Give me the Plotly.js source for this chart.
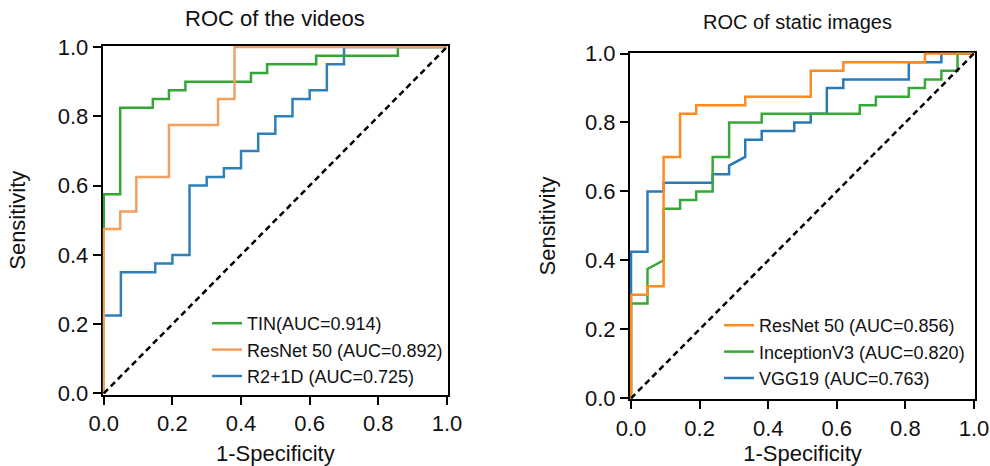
<!DOCTYPE html>
<html>
<head>
<meta charset="utf-8">
<script src="https://cdn.plot.ly/plotly-3.0.1.min.js"></script>
<style>html,body{margin:0;padding:0;background:#fff;}#chart{width:990px;height:466px;}</style>
</head>
<body>
<div id="chart"></div>
<script>
// ---------- Data: ROC of the videos ----------
const tinFpr = [0, 0, 0.048, 0.048, 0.143, 0.143, 0.190, 0.190, 0.238, 0.238, 0.429, 0.429, 0.476, 0.476, 0.619, 0.619, 0.857, 0.857, 1];
const tinTpr = [0, 0.575, 0.575, 0.825, 0.825, 0.85, 0.85, 0.875, 0.875, 0.9, 0.9, 0.925, 0.925, 0.95, 0.95, 0.975, 0.975, 1, 1];

const resVidFpr = [0, 0, 0.048, 0.048, 0.095, 0.095, 0.190, 0.190, 0.333, 0.333, 0.381, 0.381, 1];
const resVidTpr = [0, 0.475, 0.475, 0.525, 0.525, 0.625, 0.625, 0.775, 0.775, 0.85, 0.85, 1, 1];

const r21dFpr = [0, 0, 0.05, 0.05, 0.15, 0.15, 0.2, 0.2, 0.25, 0.25, 0.3, 0.3, 0.35, 0.35, 0.4, 0.4, 0.45, 0.45, 0.5, 0.5, 0.55, 0.55, 0.6, 0.6, 0.65, 0.65, 0.7, 0.7, 1];
const r21dTpr = [0, 0.225, 0.225, 0.35, 0.35, 0.375, 0.375, 0.4, 0.4, 0.6, 0.6, 0.625, 0.625, 0.65, 0.65, 0.7, 0.7, 0.75, 0.75, 0.8, 0.8, 0.85, 0.85, 0.875, 0.875, 0.95, 0.95, 1, 1];

// ---------- Data: ROC of static images ----------
const resImgFpr = [0, 0, 0.048, 0.048, 0.095, 0.095, 0.143, 0.143, 0.190, 0.190, 0.333, 0.333, 0.524, 0.524, 0.619, 0.619, 0.857, 0.857, 1];
const resImgTpr = [0, 0.3, 0.3, 0.325, 0.325, 0.7, 0.7, 0.825, 0.825, 0.85, 0.85, 0.875, 0.875, 0.95, 0.95, 0.975, 0.975, 1, 1];

const incFpr = [0, 0, 0.048, 0.048, 0.095, 0.095, 0.143, 0.143, 0.190, 0.190, 0.238, 0.238, 0.286, 0.286, 0.381, 0.381, 0.667, 0.667, 0.714, 0.714, 0.810, 0.810, 0.857, 0.857, 0.905, 0.905, 0.952, 0.952, 1];
const incTpr = [0, 0.275, 0.275, 0.375, 0.4, 0.55, 0.55, 0.575, 0.575, 0.6, 0.6, 0.7, 0.7, 0.8, 0.8, 0.825, 0.825, 0.85, 0.85, 0.875, 0.875, 0.9, 0.9, 0.925, 0.925, 0.95, 0.95, 1, 1];

const vggFpr = [0, 0, 0.048, 0.048, 0.095, 0.095, 0.238, 0.238, 0.286, 0.286, 0.333, 0.333, 0.381, 0.381, 0.476, 0.476, 0.524, 0.524, 0.571, 0.571, 0.619, 0.619, 0.810, 0.810, 0.905, 0.905, 1];
const vggTpr = [0, 0.425, 0.425, 0.6, 0.6, 0.625, 0.625, 0.65, 0.65, 0.675, 0.7, 0.75, 0.75, 0.775, 0.775, 0.8, 0.8, 0.825, 0.825, 0.9, 0.9, 0.925, 0.925, 0.975, 0.975, 1, 1];

const chance = [0, 1];

const tickVals = [0, 0.2, 0.4, 0.6, 0.8, 1.0];
const tickText = ['0.0', '0.2', '0.4', '0.6', '0.8', '1.0'];

const namesVid = ['TIN(AUC=0.914)', 'ResNet 50 (AUC=0.892)', 'R2+1D (AUC=0.725)'];
const namesImg = ['ResNet 50 (AUC=0.856)', 'InceptionV3 (AUC=0.820)', 'VGG19 (AUC=0.763)'];
const panelTitles = ['ROC of the videos', 'ROC of static images'];
const xTitle = '1-Specificity';
const yTitle = 'Sensitivity';

// ---------- Styles ----------
const FONT = 'Liberation Sans, Arial, Helvetica, sans-serif';
const LW = 2.5;

function line(x, y, name, color, xa, ya, leg, rank) {
  return {x: x, y: y, name: name, type: 'scatter', mode: 'lines',
    line: {color: color, width: LW}, xaxis: xa, yaxis: ya, legend: leg, legendrank: rank,
    hoverinfo: 'skip'};
}

const traces = [
  line(r21dFpr, r21dTpr, namesVid[2], '#2f7fb8', 'x', 'y', 'legend', 3),
  line(tinFpr, tinTpr, namesVid[0], '#35a535', 'x', 'y', 'legend', 1),
  line(resVidFpr, resVidTpr, namesVid[1], '#f2a061', 'x', 'y', 'legend', 2),
  {x: chance, y: chance, type: 'scatter', mode: 'lines', showlegend: false, hoverinfo: 'skip',
    line: {color: '#000', width: 2.5, dash: '6px,4px'}, xaxis: 'x', yaxis: 'y'},
  line(vggFpr, vggTpr, namesImg[2], '#2a7ab8', 'x2', 'y2', 'legend2', 3),
  line(incFpr, incTpr, namesImg[1], '#38a838', 'x2', 'y2', 'legend2', 2),
  line(resImgFpr, resImgTpr, namesImg[0], '#ff8a1f', 'x2', 'y2', 'legend2', 1),
  {x: chance, y: chance, type: 'scatter', mode: 'lines', showlegend: false, hoverinfo: 'skip',
    line: {color: '#000', width: 2.5, dash: '6px,4px'}, xaxis: 'x2', yaxis: 'y2'}
];

function axis(domain, anchor, title, standoff) {
  return {
    domain: domain, anchor: anchor, range: [-0.003, 1.003], fixedrange: true,
    showline: true, linecolor: '#000', linewidth: 2, mirror: true,
    ticks: 'outside', ticklen: 8, tickwidth: 2, tickcolor: '#000',
    tickvals: tickVals, ticktext: tickText,
    tickfont: {family: FONT, size: 22, color: '#111'},
    showgrid: false, zeroline: false, layer: 'below traces',
    title: {text: title, font: {family: FONT, size: 22, color: '#111'}, standoff: standoff}
  };
}

const W = 990, H = 466;
const layout = {
  width: W, height: H,
  margin: {l: 0, r: 0, t: 0, b: 0},
  paper_bgcolor: '#fff', plot_bgcolor: '#fff',
  font: {family: FONT, color: '#111'},
  xaxis: axis([102.7 / W, 448 / W], 'y', xTitle, 15),
  yaxis: axis([1 - 394.5 / H, 1 - 46 / H], 'x', yTitle, 26),
  xaxis2: axis([630 / W, 975 / W], 'y2', xTitle, 15),
  yaxis2: axis([1 - 399.3 / H, 1 - 52.5 / H], 'x2', yTitle, 23),
  legend: {x: 207 / W, y: 1 - 305 / H, xanchor: 'left', yanchor: 'top',
    bgcolor: 'rgba(0,0,0,0)', borderwidth: 0, font: {family: FONT, size: 18, color: '#111'},
    traceorder: 'normal'},
  legend2: {x: 719 / W, y: 1 - 307 / H, xanchor: 'left', yanchor: 'top',
    bgcolor: 'rgba(0,0,0,0)', borderwidth: 0, font: {family: FONT, size: 18, color: '#111'},
    traceorder: 'normal', tracegroupgap: 2.5},
  annotations: [
    {text: panelTitles[0], x: 275 / W, y: 1 - 18 / H, xref: 'paper', yref: 'paper',
      xanchor: 'center', yanchor: 'middle', showarrow: false,
      font: {family: FONT, size: 22, color: '#111'}},
    {text: panelTitles[1], x: 797 / W, y: 1 - 22 / H, xref: 'paper', yref: 'paper',
      xanchor: 'center', yanchor: 'middle', showarrow: false,
      font: {family: FONT, size: 20, color: '#111'}}
  ],
  showlegend: true
};

// give each image trace its own group so tracegroupgap applies
traces.forEach((t, i) => { if (t.legend === 'legend2') t.legendgroup = 'g' + i; });

Plotly.newPlot('chart', traces, layout, {staticPlot: true, displayModeBar: false});
</script>
</body>
</html>
